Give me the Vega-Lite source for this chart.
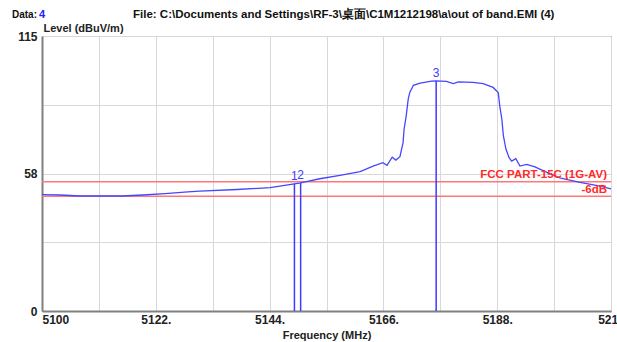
{
  "$schema": "https://vega.github.io/schema/vega-lite/v6.json",
  "width": 569,
  "height": 275,
  "autosize": {"type": "none"},
  "padding": {"left": 42, "top": 36, "right": 6, "bottom": 31},
  "background": "white",
  "config": {
    "font": "Liberation Sans",
    "view": {"stroke": "#505050", "strokeWidth": 1}
  },
  "datasets": {
    "trace": [
      {"freq": 5100.0, "level": 48.7},
      {"freq": 5103.5, "level": 48.5},
      {"freq": 5107.3, "level": 48.1},
      {"freq": 5115.5, "level": 48.1},
      {"freq": 5119.5, "level": 48.5},
      {"freq": 5123.8, "level": 49.1},
      {"freq": 5128.2, "level": 49.8},
      {"freq": 5130.5, "level": 50.1},
      {"freq": 5137.7, "level": 50.8},
      {"freq": 5144.1, "level": 51.6},
      {"freq": 5148.8, "level": 53.2},
      {"freq": 5150.0, "level": 53.6},
      {"freq": 5153.7, "level": 55.3},
      {"freq": 5157.6, "level": 56.7},
      {"freq": 5161.5, "level": 58.3},
      {"freq": 5164.0, "level": 60.6},
      {"freq": 5165.9, "level": 62.0},
      {"freq": 5166.7, "level": 60.9},
      {"freq": 5167.7, "level": 64.3},
      {"freq": 5168.4, "level": 63.1},
      {"freq": 5169.2, "level": 64.5},
      {"freq": 5169.8, "level": 70.4},
      {"freq": 5170.0, "level": 76.0},
      {"freq": 5170.4, "level": 81.5},
      {"freq": 5170.8, "level": 88.6},
      {"freq": 5171.1, "level": 91.4},
      {"freq": 5171.8, "level": 94.4},
      {"freq": 5173.1, "level": 95.3},
      {"freq": 5175.3, "level": 96.1},
      {"freq": 5176.2, "level": 96.2},
      {"freq": 5178.2, "level": 96.0},
      {"freq": 5179.5, "level": 95.1},
      {"freq": 5180.5, "level": 95.8},
      {"freq": 5183.3, "level": 95.6},
      {"freq": 5185.3, "level": 95.1},
      {"freq": 5187.2, "level": 93.5},
      {"freq": 5188.2, "level": 91.4},
      {"freq": 5188.5, "level": 85.7},
      {"freq": 5188.9, "level": 80.2},
      {"freq": 5189.2, "level": 73.2},
      {"freq": 5189.7, "level": 67.6},
      {"freq": 5190.3, "level": 64.1},
      {"freq": 5190.8, "level": 62.7},
      {"freq": 5191.6, "level": 63.7},
      {"freq": 5192.4, "level": 60.6},
      {"freq": 5193.7, "level": 61.3},
      {"freq": 5195.3, "level": 60.3},
      {"freq": 5197.6, "level": 58.0},
      {"freq": 5200.1, "level": 55.7},
      {"freq": 5204.0, "level": 53.8},
      {"freq": 5207.9, "level": 52.2},
      {"freq": 5210.0, "level": 51.1}
    ],
    "markers": [
      {"freq": 5148.8, "level": 53.2, "label": "1"},
      {"freq": 5150.0, "level": 53.6, "label": "2"},
      {"freq": 5176.2, "level": 96.2, "label": "3"}
    ],
    "limits": [
      {"level": 54, "label": "FCC PART-15C (1G-AV)"},
      {"level": 48, "label": "-6dB"}
    ]
  },
  "layer": [
    {
      "data": {"name": "limits"},
      "mark": {"type": "rule", "color": "#ff7878", "strokeWidth": 1.5},
      "encoding": {
        "y": {"field": "level", "type": "quantitative"}
      }
    },
    {
      "data": {"name": "trace"},
      "mark": {"type": "line", "color": "#4646ff", "strokeWidth": 1.3},
      "encoding": {
        "x": {
          "field": "freq", "type": "quantitative",
          "scale": {"domain": [5100, 5210], "nice": false, "zero": false},
          "axis": {
            "title": "Frequency (MHz)",
            "values": [5100, 5111, 5122, 5133, 5144, 5155, 5166, 5177, 5188, 5199, 5210],
            "labelExpr": "datum.value == 5100 || datum.value == 5210 ? '' + datum.value : ((datum.value - 5100) % 22 == 0 ? datum.value + '.' : '')",
            "labelAlign": {"condition": {"test": "datum.value == 5100", "value": "left"}, "value": "center"},
            "labelFont": "Liberation Sans", "labelFontWeight": "bold", "labelFontSize": 12,
            "labelColor": "#222222", "labelPadding": 3, "labelOverlap": false, "labelBound": false,
            "ticks": false,
            "grid": true, "gridColor": "#d8d8d8", "gridWidth": 1,
            "domainColor": "#808080", "domainWidth": 2,
            "titleFont": "Liberation Sans", "titleFontWeight": "bold", "titleFontSize": 11,
            "titleColor": "#222222", "titlePadding": 4
          }
        },
        "y": {
          "field": "level", "type": "quantitative",
          "scale": {"domain": [0, 115], "nice": false, "zero": true},
          "axis": {
            "title": "Level (dBuV/m)",
            "values": [0, 14.375, 28.75, 43.125, 57.5, 71.875, 86.25, 100.625, 115],
            "labelExpr": "datum.value == 0 || datum.value == 57.5 || datum.value == 115 ? format(datum.value, '.0f') : ''",
            "labelFont": "Liberation Sans", "labelFontWeight": "bold", "labelFontSize": 12,
            "labelColor": "#222222", "labelPadding": 5, "labelOverlap": false, "labelBound": false,
            "ticks": false,
            "grid": true, "gridColor": "#d8d8d8", "gridWidth": 1,
            "domainColor": "#808080", "domainWidth": 2,
            "titleFont": "Liberation Sans", "titleFontWeight": "bold", "titleFontSize": 11,
            "titleColor": "#222222",
            "titleAngle": 0, "titleAlign": "left", "titleBaseline": "middle",
            "titleX": 1, "titleY": -8
          }
        }
      }
    },
    {
      "data": {"name": "markers"},
      "mark": {"type": "rule", "color": "#3c3cff", "strokeWidth": 1.5},
      "encoding": {
        "x": {"field": "freq", "type": "quantitative"},
        "y": {"field": "level", "type": "quantitative"},
        "y2": {"datum": 0}
      }
    },
    {
      "data": {"name": "markers"},
      "mark": {"type": "text", "color": "#3c3cff", "fontSize": 12, "baseline": "bottom", "dy": -1, "font": "Liberation Sans"},
      "encoding": {
        "x": {"field": "freq", "type": "quantitative"},
        "y": {"field": "level", "type": "quantitative"},
        "text": {"field": "label"}
      }
    },
    {
      "data": {"name": "limits"},
      "mark": {"type": "text", "color": "#ff2a2a", "fontSize": 11.5, "fontWeight": "bold", "align": "right", "baseline": "bottom", "dx": -4, "dy": -2, "font": "Liberation Sans"},
      "transform": [{"filter": "datum.level == 54"}],
      "encoding": {
        "x": {"datum": 5210},
        "y": {"field": "level", "type": "quantitative"},
        "text": {"field": "label"}
      }
    },
    {
      "data": {"name": "limits"},
      "mark": {"type": "text", "color": "#ff2a2a", "fontSize": 11.5, "fontWeight": "bold", "align": "right", "baseline": "bottom", "dx": -4, "dy": -1, "font": "Liberation Sans"},
      "transform": [{"filter": "datum.level == 48"}],
      "encoding": {
        "x": {"datum": 5210},
        "y": {"field": "level", "type": "quantitative"},
        "text": {"field": "label"}
      }
    },
    {
      "data": {"values": [{"t": "Data:"}]},
      "mark": {"type": "text", "color": "#111111", "fontSize": 10, "fontWeight": "bold", "align": "left", "baseline": "middle", "dx": -30, "dy": -21, "font": "Liberation Sans"},
      "encoding": {
        "x": {"datum": 5100},
        "y": {"datum": 115},
        "text": {"field": "t"}
      }
    },
    {
      "data": {"values": [{"t": "4"}]},
      "mark": {"type": "text", "color": "#2020ff", "fontSize": 11, "fontWeight": "bold", "align": "left", "baseline": "middle", "dx": -3, "dy": -21, "font": "Liberation Sans"},
      "encoding": {
        "x": {"datum": 5100},
        "y": {"datum": 115},
        "text": {"field": "t"}
      }
    },
    {
      "data": {"values": [{"t": "File: C:\\Documents and Settings\\RF-3\\桌面\\C1M1212198\\a\\out of band.EMI  (4)"}]},
      "mark": {"type": "text", "color": "#111111", "fontSize": 11.5, "fontWeight": "bold", "align": "left", "baseline": "middle", "dx": 91, "dy": -21, "font": "Liberation Sans"},
      "encoding": {
        "x": {"datum": 5100},
        "y": {"datum": 115},
        "text": {"field": "t"}
      }
    }
  ]
}
